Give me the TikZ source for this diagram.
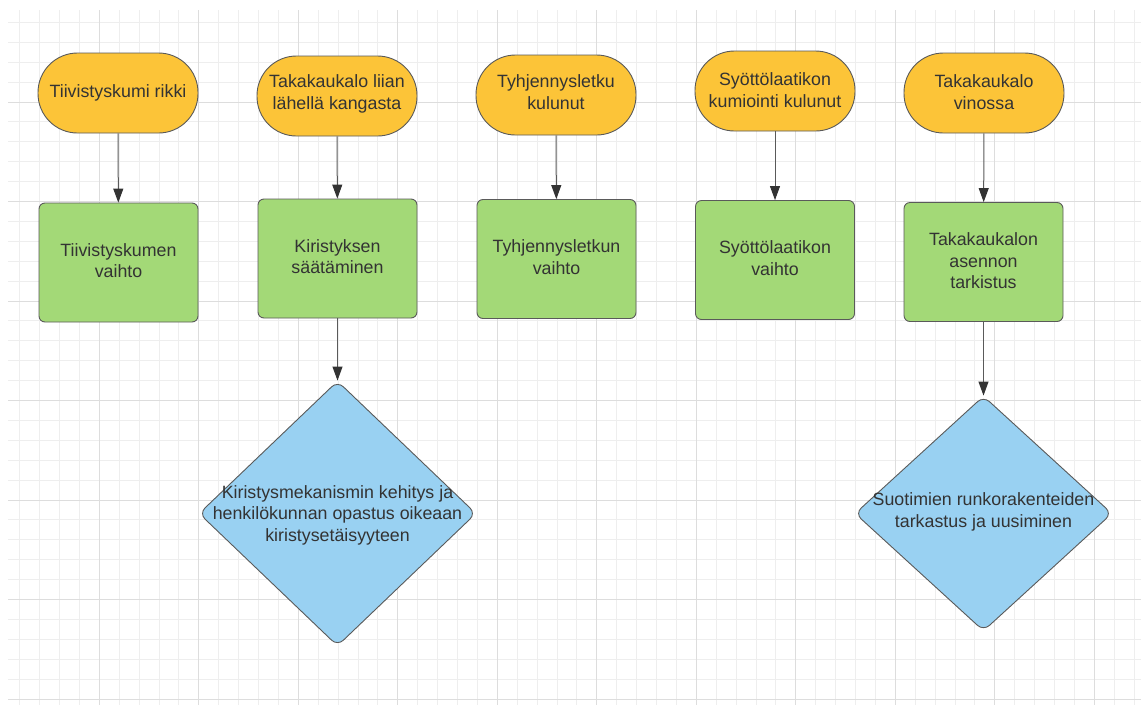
\documentclass[tikz,border=0pt]{standalone}
\usepackage{fontspec}
\setmainfont{Liberation Sans}
\usetikzlibrary{shapes.geometric,arrows.meta}
\definecolor{gridminor}{HTML}{EEEEEE}
\definecolor{gridmajor}{HTML}{DDDDDD}
\definecolor{termfill}{HTML}{FCC438}
\definecolor{procfill}{HTML}{A3D977}
\definecolor{decfill}{HTML}{99D1F2}
\definecolor{edge}{HTML}{5A5A5A}
\definecolor{ink}{HTML}{333333}
\begin{document}
\begin{tikzpicture}[x=1pt,y=-1pt,
  txt/.style={text=ink, font=\fontsize{17.8}{21.5}\selectfont, align=center, inner sep=0pt},
  base/.style={draw=edge, line width=0.9pt},
  term/.style={base, fill=termfill, rectangle, rounded corners=39.5pt, minimum width=160pt, minimum height=80pt},
  proc/.style={base, fill=procfill, rectangle, rounded corners=6pt, minimum width=159pt, minimum height=119pt},
  dec/.style={base, fill=decfill, diamond, rounded corners=8pt, inner sep=0pt},
  flow/.style={draw=edge, line width=1pt, -{Triangle[length=14pt,width=10pt,color=ink]}},
  minorline/.style={draw=gridminor, line width=0.9pt},
  majorline/.style={draw=gridmajor, line width=1pt}
]
\useasboundingbox (0,0) rectangle (1141,705);
\fill[white] (0,0) rectangle (1141,705);

% background grid
\foreach \k in {0,...,56}{
  \pgfmathsetmacro{\gx}{19.7+19.9*\k}
  \draw[minorline] (\gx,10) -- (\gx,705);
}
\foreach \k in {0,...,34}{
  \pgfmathsetmacro{\gy}{22.4+19.9*\k}
  \draw[minorline] (8,\gy) -- (1141,\gy);
}
\foreach \k in {4,9,...,54}{
  \pgfmathsetmacro{\gx}{19.7+19.9*\k}
  \draw[majorline] (\gx,10) -- (\gx,705);
}
\foreach \k in {4,9,...,34}{
  \pgfmathsetmacro{\gy}{22.4+19.9*\k}
  \draw[majorline] (8,\gy) -- (1141,\gy);
}

% causes
\node[term] (t1) at (118,93) {};
\node[txt] (t1text) at (118,93) {Tiivistyskumi rikki};
\node[term] (t2) at (337,96) {};
\node[txt] (t2text) at (337,94) {Takakaukalo liian\\lähellä kangasta};
\node[term] (t3) at (556,95) {};
\node[txt] (t3text) at (556,92) {Tyhjennysletku\\kulunut};
\node[term] (t4) at (775,91) {};
\node[txt] (t4text) at (775,90) {Syöttölaatikon\\kumiointi kulunut};
\node[term] (t5) at (984,93) {};
\node[txt] (t5text) at (984,92) {Takakaukalo\\vinossa};

% corrective actions
\node[proc] (p1) at (118.5,262.5) {};
\node[txt] (p1text) at (118.5,260.5) {Tiivistyskumen\\vaihto};
\node[proc] (p2) at (337.5,258.5) {};
\node[txt] (p2text) at (337.5,256.5) {Kiristyksen\\säätäminen};
\node[proc] (p3) at (556.5,259) {};
\node[txt] (p3text) at (556.5,257) {Tyhjennysletkun\\vaihto};
\node[proc] (p4) at (775,260) {};
\node[txt] (p4text) at (775,258) {Syöttölaatikon\\vaihto};
\node[proc] (p5) at (983.5,262) {};
\node[txt] (p5text) at (983.5,261) {Takakaukalon\\asennon\\tarkistus};

% further development
\node[dec, minimum width=277pt, minimum height=265pt] (d1) at (337.5,513.5) {};
\node[txt] (d1text) at (337.5,515) {Kiristysmekanismin kehitys ja\\henkilökunnan opastus oikeaan\\kiristysetäisyyteen};
\node[dec, minimum width=257pt, minimum height=235pt] (d2) at (983.5,513.5) {};
\node[txt] (d2text) at (983.5,512) {Suotimien runkorakenteiden\\tarkastus ja uusiminen};

% connectors
\draw[flow] (t1) -- (p1);
\draw[flow] (t2) -- (p2);
\draw[flow] (t3) -- (p3);
\draw[flow] (t4) -- (p4);
\draw[flow] (t5) -- (p5);
\draw[flow] (p2) -- (d1);
\draw[flow] (p5) -- (d2);
\end{tikzpicture}
\end{document}
